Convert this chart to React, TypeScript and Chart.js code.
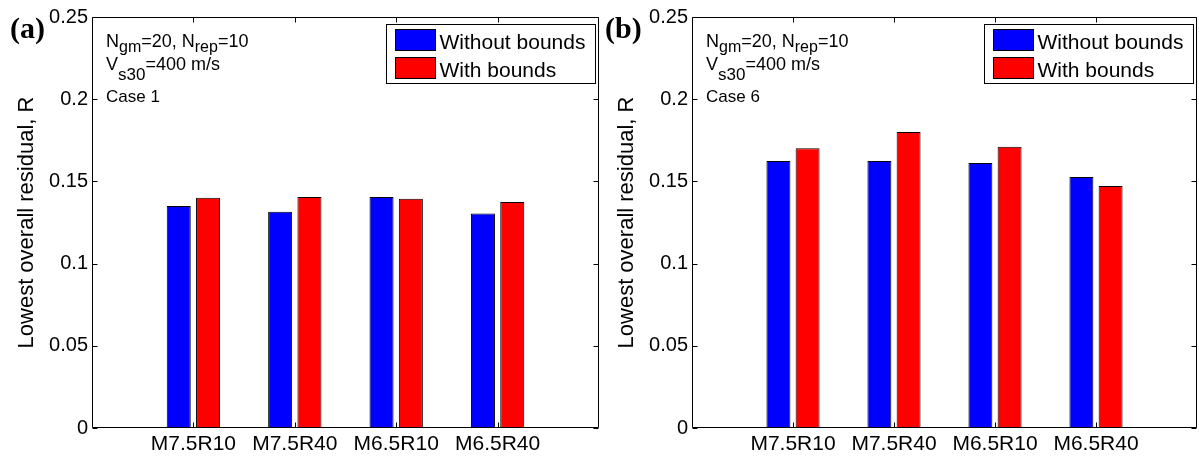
import React, { useEffect, useRef } from 'react';
import { Chart, registerables } from 'chart.js';

Chart.register(...registerables);

// ---- data ----
const categories = ['M7.5R10', 'M7.5R40', 'M6.5R10', 'M6.5R40'];
const seriesNames = ['Without bounds', 'With bounds'];
const seriesColors = ['#0000ff', '#ff0000'];
const case1Without = [0.135, 0.1316, 0.1405, 0.1305];
const case1With = [0.14, 0.1405, 0.1395, 0.1375];
const case6Without = [0.1624, 0.1624, 0.1612, 0.1527];
const case6With = [0.1701, 0.18, 0.1711, 0.1472];
const yTickValues = [0, 0.05, 0.1, 0.15, 0.2, 0.25];
const yTickLabels = ['0', '0.05', '0.1', '0.15', '0.2', '0.25'];
const yAxisTitle = 'Lowest overall residual, R';

const FONT = '"Liberation Sans", Arial, sans-serif';

type Seg = { t: string; sub?: boolean };

function drawRich(ctx: CanvasRenderingContext2D, segs: Seg[], x: number, y: number, mainPx: number, subPx: number, subDy: number) {
  let cx = x;
  for (const s of segs) {
    ctx.font = `${s.sub ? subPx : mainPx}px ${FONT}`;
    ctx.fillText(s.t, cx, s.sub ? y + subDy : y);
    cx += ctx.measureText(s.t).width;
  }
}

function makeOverlay(panelLabel: string, caseLabel: string, labelX: number) {
  return {
    id: 'overlay_' + panelLabel.replace(/[()]/g, ''),
    afterDraw(chart: any) {
      const ctx: CanvasRenderingContext2D = chart.ctx;
      const { left, right, top, bottom } = chart.chartArea;
      const L = Math.round(left) + 0.5;
      const R = Math.round(right) - 0.5;
      const T = Math.round(top) + 0.5;
      const B = Math.round(bottom) - 0.5;
      ctx.save();
      ctx.strokeStyle = '#000';
      ctx.lineWidth = 1;
      ctx.beginPath();
      ctx.rect(L, T, R - L, B - T);
      // y ticks (inward, both sides)
      const ys = chart.scales.y;
      for (const t of ys.ticks) {
        const py = Math.round(ys.getPixelForValue(t.value)) + 0.5;
        ctx.moveTo(L, py); ctx.lineTo(L + 5, py);
        ctx.moveTo(R, py); ctx.lineTo(R - 5, py);
      }
      const xs = chart.scales.x;
      for (const t of xs.ticks) {
        const px = Math.round(xs.getPixelForValue(t.value)) + 0.5;
        ctx.moveTo(px, B); ctx.lineTo(px, B - 5);
        ctx.moveTo(px, T); ctx.lineTo(px, T + 5);
      }
      ctx.stroke();

      // annotations
      ctx.fillStyle = '#000';
      ctx.textBaseline = 'alphabetic';
      ctx.textAlign = 'left';
      const ax = left + 14;
      drawRich(ctx, [{ t: 'N' }, { t: 'gm', sub: true }, { t: '=20, N' }, { t: 'rep', sub: true }, { t: '=10' }], ax, top + 30, 18, 16, 5);
      drawRich(ctx, [{ t: 'V' }, { t: 's30', sub: true }, { t: '=400 m/s' }], ax, top + 53, 18, 17, 10);
      ctx.font = `17px ${FONT}`;
      ctx.fillText(caseLabel, ax, top + 85);

      // legend
      ctx.font = `21px ${FONT}`;
      const ds = chart.data.datasets;
      let tw = 0;
      for (const d of ds) tw = Math.max(tw, ctx.measureText(d.label).width);
      const lr = Math.round(right) - 3.5;
      const ll = Math.round(lr - (tw + 64)) + 0.5;
      const lt = Math.round(top) + 7.5;
      const lb = lt + 59;
      ctx.fillStyle = '#fff';
      ctx.fillRect(ll, lt, lr - ll, lb - lt);
      ctx.strokeStyle = '#000';
      ctx.strokeRect(ll, lt, lr - ll, lb - lt);
      ds.forEach((d: any, i: number) => {
        const sy = lt + 5 + i * 28;
        ctx.fillStyle = d.backgroundColor;
        ctx.fillRect(ll + 9, sy, 40, 21);
        ctx.strokeStyle = '#000';
        ctx.strokeRect(ll + 9, sy, 40, 21);
        ctx.fillStyle = '#000';
        ctx.fillText(d.label, ll + 53, sy + 19);
      });

      // panel label
      ctx.font = `bold 30px "Liberation Serif", "Times New Roman", serif`;
      ctx.fillText(panelLabel, labelX, 38);
      ctx.restore();
    },
  };
}

function Panel({ width, padRight, panelLabel, caseLabel, labelX, without, withB }: any) {
  const ref = useRef<HTMLCanvasElement | null>(null);
  useEffect(() => {
    if (!ref.current) return;
    const chart = new Chart(ref.current, {
      type: 'bar',
      data: {
        datasets: [
          {
            label: seriesNames[0],
            data: without.map((v: number, i: number) => ({ x: i + 1, y: v })),
            backgroundColor: seriesColors[0],
            borderColor: '#000',
            borderWidth: 1,
          },
          {
            label: seriesNames[1],
            data: withB.map((v: number, i: number) => ({ x: i + 1, y: v })),
            backgroundColor: seriesColors[1],
            borderColor: '#000',
            borderWidth: 1,
          },
        ],
      },
      options: {
        responsive: false,
        animation: false,
        devicePixelRatio: 1,
        categoryPercentage: 0.578,
        barPercentage: 0.82,
        layout: { padding: { left: 0, right: padRight, top: 17, bottom: 0 } },
        plugins: { legend: { display: false }, tooltip: { enabled: false }, title: { display: false } },
        scales: {
          x: {
            type: 'linear',
            offset: false,
            min: 0,
            max: 5,
            afterBuildTicks: (s: any) => {
              s.ticks = categories.map((_, i) => ({ value: i + 1 }));
            },
            afterFit: (s: any) => {
              s.height = 29;
            },
            ticks: {
              autoSkip: false,
              maxRotation: 0,
              padding: 4,
              color: '#000',
              font: { family: FONT, size: 21 },
              callback: (v: any) => categories[Math.round(v) - 1] ?? '',
            },
            grid: { display: false, drawTicks: false, offset: false },
            border: { display: false },
          },
          y: {
            type: 'linear',
            min: 0,
            max: 0.25,
            afterBuildTicks: (s: any) => {
              s.ticks = yTickValues.map((v) => ({ value: v }));
            },
            afterFit: (s: any) => {
              s.width = 92;
            },
            ticks: {
              padding: 4,
              color: '#000',
              font: { family: FONT, size: 20 },
              callback: (_v: any, i: number) => yTickLabels[i],
            },
            grid: { display: false, drawTicks: false },
            border: { display: false },
            title: {
              display: true,
              text: yAxisTitle,
              color: '#000',
              font: { family: FONT, size: 22 },
              padding: { top: 14, bottom: 0 },
            },
          },
        },
      },
      plugins: [makeOverlay(panelLabel, caseLabel, labelX)],
    } as any);
    return () => chart.destroy();
  }, []);
  return <canvas ref={ref} width={width} height={457} style={{ display: 'block' }} />;
}

export default function App() {
  useEffect(() => {
    document.body.style.margin = '0';
    document.body.style.background = '#fff';
  }, []);
  return (
    <div style={{ position: 'relative', width: 1199, height: 457, background: '#fff' }}>
      <div style={{ position: 'absolute', left: 0, top: 0 }}>
        <Panel width={600} padRight={1} panelLabel="(a)" caseLabel="Case 1" labelX={10} without={case1Without} withB={case1With} />
      </div>
      <div style={{ position: 'absolute', left: 600, top: 0 }}>
        <Panel width={599} padRight={2} panelLabel="(b)" caseLabel="Case 6" labelX={5} without={case6Without} withB={case6With} />
      </div>
    </div>
  );
}
